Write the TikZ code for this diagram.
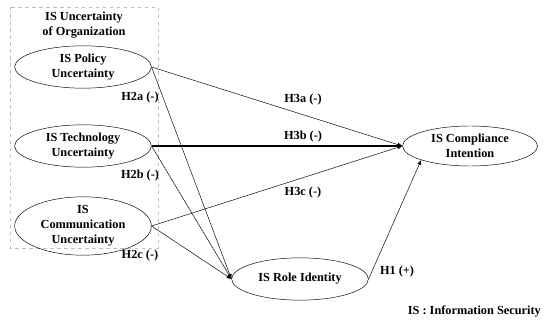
\documentclass[tikz,border=0pt]{standalone}
\usepackage{fontspec}
\setmainfont{Liberation Serif}
\usepackage{tikz}
\usetikzlibrary{shapes}
\usetikzlibrary{arrows.meta}
\tikzset{>={Latex[length=4pt,width=3.5pt]}}
\tikzset{construct/.style={ellipse, draw, thin, minimum width=4.1cm, minimum height=1.27cm, inner sep=0pt, align=center, font=\bfseries\fontsize{10.5}{13}\selectfont}}
\tikzset{hyp/.style={font=\bfseries\fontsize{10.5}{12.5}\selectfont}}

\begin{document}
\begin{tikzpicture}[x=0.03cm, y=-0.03cm]
  \useasboundingbox (0,0) rectangle (545,320);

  % group box of the three uncertainties
  \draw[gray!50, dashed, thick] (10,7) rectangle (158,248);
  \node[align=center, hyp] (grp) at (84,25) {IS Uncertainty\\of Organization};

  % constructs
  \node[construct] (pol)  at (83,67)   {IS Policy\\Uncertainty};
  \node[construct] (tech) at (83,146)  {IS Technology\\Uncertainty};
  \node[construct, minimum height=1.33cm] (comm) at (83,226) {IS\\Communication\\Uncertainty};
  \node[construct] (role) at (300,279) {IS Role Identity};
  \node[construct, minimum width=4.05cm, minimum height=1.2cm] (comp) at (470,146) {IS Compliance\\Intention};

  % H2 paths to role identity
  \draw[->, thin] (pol.east)  -- (role.west);
  \draw[->, thin] (tech.east) -- (role.west);
  \draw[->, thin] (comm.east) -- (role.west);

  % H3 paths to compliance intention
  \draw[->, thin]             (pol.east)  -- (comp.west);
  \draw[-{Latex[length=4pt,width=3.5pt]}, line width=1.3pt] (tech.east) -- (comp.west);
  \draw[->, thin]             (comm.east) -- (comp.west);

  % H1
  \draw[->, thin] (role.east) -- (comp.196);

  % hypothesis labels
  \node[hyp] (h2a) at (140,98)  {H2a (-)};
  \node[hyp] (h2b) at (140,176) {H2b (-)};
  \node[hyp] (h2c) at (140,256) {H2c (-)};
  \node[hyp] (h3a) at (303,100) {H3a (-)};
  \node[hyp] (h3b) at (303,137) {H3b (-)};
  \node[hyp] (h3c) at (303,193) {H3c (-)};
  \node[hyp] (h1)  at (397,272) {H1 (+)};

  \node[hyp, anchor=east, inner sep=0pt] (note) at (541,311) {IS : Information Security};
\end{tikzpicture}
\end{document}
